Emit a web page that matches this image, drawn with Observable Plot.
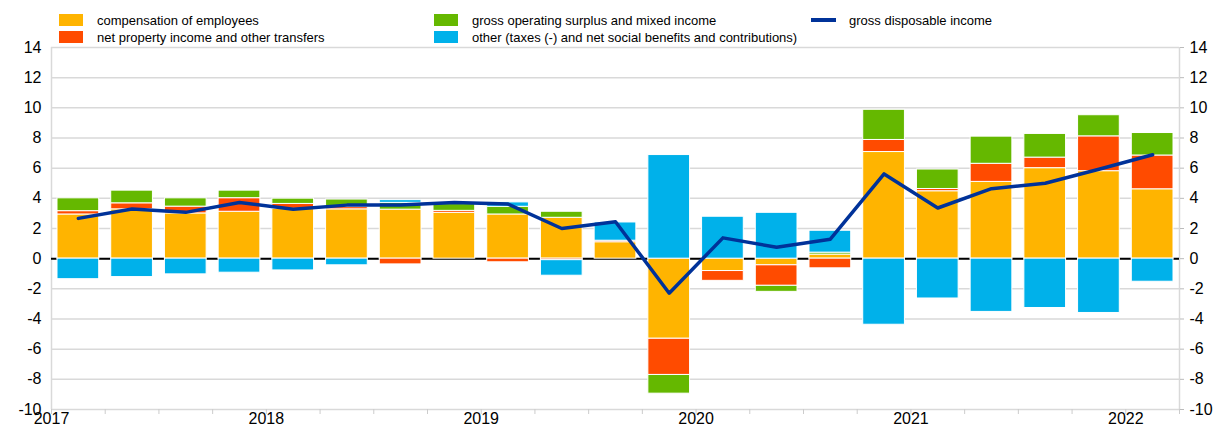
<!DOCTYPE html>
<html><head><meta charset="utf-8">
<script src="https://cdn.jsdelivr.net/npm/d3@7"></script>
<script src="https://cdn.jsdelivr.net/npm/@observablehq/plot@0.6"></script>
<style>
body{margin:0;background:#fff;font-family:"Liberation Sans",Arial,sans-serif;}
#legend{position:relative;height:40px;width:1219px;font-size:13px;color:#000;}
.item{position:absolute;display:flex;align-items:center;height:14px;white-space:nowrap;}
.sw{width:24px;height:12px;margin-right:14px;flex:none}
.ln{width:25px;height:4px;margin-right:13px;flex:none}
</style></head><body>
<div id="legend"></div>
<div id="chart"></div>
<script>
// ---- data ----
const quarters = ["2017Q1","2017Q2","2017Q3","2017Q4","2018Q1","2018Q2","2018Q3","2018Q4",
  "2019Q1","2019Q2","2019Q3","2019Q4","2020Q1","2020Q2","2020Q3","2020Q4",
  "2021Q1","2021Q2","2021Q3","2021Q4","2022Q1"];
const seriesNames = ["compensation of employees","net property income and other transfers",
  "gross operating surplus and mixed income","other (taxes (-) and net social benefits and contributions)"];
const lineName = "gross disposable income";
const compensation = [2.93,3.27,3.0,3.11,3.3,3.27,3.25,3.04,2.93,2.71,1.09,-5.31,-0.82,-0.44,0.27,7.07,4.47,5.09,6.0,5.8,4.6];
const netProperty  = [0.22,0.4,0.45,0.9,0.33,0.15,-0.38,0.13,-0.24,-0.1,0.1,-2.4,-0.65,-1.36,-0.64,0.8,0.15,1.2,0.7,2.31,2.24];
const grossOperating = [0.85,0.84,0.55,0.5,0.35,0.5,0.45,0.45,0.51,0.4,0,-1.24,0,-0.4,0.13,2.0,1.29,1.8,1.57,1.4,1.49];
const other = [-1.36,-1.22,-1.04,-0.93,-0.78,-0.44,0.18,0,0.29,-1.03,1.21,6.87,2.78,3.04,1.45,-4.38,-2.64,-3.53,-3.27,-3.6,-1.53];
const grossDisposable = [2.67,3.29,3.07,3.73,3.27,3.55,3.55,3.72,3.62,2.0,2.45,-2.29,1.38,0.76,1.29,5.62,3.36,4.64,5.0,5.93,6.89];
const yTicks = [-10,-8,-6,-4,-2,0,2,4,6,8,10,12,14];
const yearLabels = [2017,2018,2019,2020,2021,2022];
const colors = ["#FFB400","#FF4B00","#65B800","#00B1EA"];
const lineColor = "#003299";

// ---- derived ----
const t = quarters.map(q => +q.slice(0,4) + (+q.slice(5) - 1) / 4);
const seriesValues = [compensation, netProperty, grossOperating, other];
const bars = [];
seriesValues.forEach((arr, s) => arr.forEach((v, i) => bars.push({t: t[i], series: seriesNames[s], value: v})));
const lineData = grossDisposable.map((v, i) => ({t: t[i] + 0.125, value: v}));
const xDomain = [t[0], t[t.length-1] + 0.25];
const quarterTicks = d3.range(quarters.length + 1).map(i => xDomain[0] + i/4);

// ---- legend ----
const legend = document.getElementById("legend");
const legendPos = [[59,13],[59,30],[434,13],[434,30]];
seriesNames.forEach((n, i) => {
  const d = document.createElement("div");
  d.className = "item";
  d.style.left = legendPos[i][0] + "px"; d.style.top = legendPos[i][1] + "px";
  d.innerHTML = `<span class="sw" style="background:${colors[i]}"></span><span>${n}</span>`;
  legend.appendChild(d);
});
{
  const d = document.createElement("div");
  d.className = "item";
  d.style.left = "811px"; d.style.top = "13px";
  d.innerHTML = `<span class="ln" style="background:${lineColor}"></span><span>${lineName}</span>`;
  legend.appendChild(d);
}

// ---- chart ----
const chart = Plot.plot({
  width: 1219, height: 390,
  marginLeft: 51, marginRight: 40, marginTop: 7, marginBottom: 21,
  style: {fontFamily: "'Liberation Sans', Arial, sans-serif", fontSize: "16px", color: "#000", background: "#fff", overflow: "visible"},
  x: {domain: xDomain, label: null},
  y: {domain: [-10, 14], label: null},
  color: {domain: seriesNames, range: colors},
  marks: [
    Plot.ruleY(yTicks, {stroke: "#d9d9d9", strokeWidth: 1.5}),
    Plot.ruleX(xDomain, {stroke: "#d9d9d9", strokeWidth: 1.5}),
    Plot.ruleY([0], {stroke: "#000", strokeWidth: 2}),
    Plot.rectY(bars, Plot.stackY({x1: "t", x2: d => d.t + 0.25, y: "value", fill: "series",
      insetLeft: 6, insetRight: 6, stroke: "white", strokeWidth: 1})),
    Plot.line(lineData, {x: "t", y: "value", stroke: lineColor, strokeWidth: 3.5}),
    Plot.axisY({anchor: "left", ticks: yTicks, tickSize: 0, tickPadding: 10, tickFormat: d => String(d), label: null}),
    Plot.axisY({anchor: "right", ticks: yTicks, tickSize: 4, tickPadding: 6, stroke: "#bbb", tickFormat: d => String(d), label: null}),
    Plot.axisX({ticks: quarterTicks, tickSize: 5, stroke: "#ccc", tickFormat: () => "", label: null}),
    Plot.axisX({ticks: yearLabels, tickSize: 0, tickPadding: 3, tickFormat: d => String(d), label: null})
  ]
});
document.getElementById("chart").appendChild(chart);
</script>
</body></html>
